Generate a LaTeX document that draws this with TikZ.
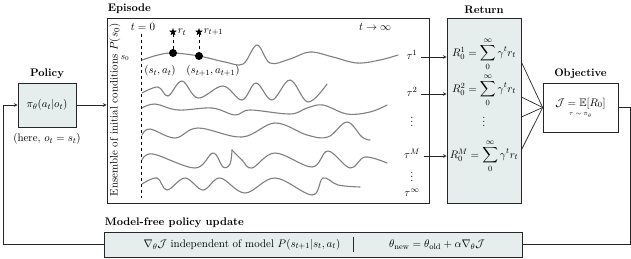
\documentclass[tikz,border=0pt,11pt]{standalone}
\usepackage{amsmath,amssymb}
\usetikzlibrary{shapes.geometric, arrows.meta, positioning, calc}

\definecolor{boxfill}{RGB}{229,237,237}
\definecolor{trajgray}{RGB}{128,128,128}

\begin{document}
\begin{tikzpicture}[
    x=1pt, y=-1pt,
    >=stealth,
    % Grey boxes (policy, return, update)
    box/.style={
        rectangle, draw=black!85, fill=boxfill, line width=0.7pt,
        inner sep=0pt, align=center
    },
    % White frames (episode, objective)
    frame/.style={
        rectangle, draw=black!85, fill=white, line width=0.7pt,
        inner sep=0pt, align=center
    },
    % Bold titles above the boxes
    title/.style={font=\bfseries, inner sep=1pt},
    % Sampled trajectories
    traj/.style={draw=trajgray, line width=1.1pt, line cap=round},
    % Connectors
    link/.style={line width=0.7pt, draw=black!85},
    dot/.style={circle, fill=black, inner sep=0pt, minimum size=8pt},
    reward/.style={star, star points=5, star point ratio=2.4, fill=black,
        inner sep=0pt, minimum size=8pt}
]
    \useasboundingbox (0,0) rectangle (631,258);

    % =========================================================================
    % Main boxes
    % =========================================================================
    \node[box, minimum width=58pt, minimum height=44pt] (pol) at (47,105)
        {$\pi_\theta(a_t|o_t)$};
    \node[frame, minimum width=322pt, minimum height=185pt] (ep) at (268,110.5) {};
    \node[box, minimum width=74pt, minimum height=185pt] (ret) at (484,110.5) {};
    \node[frame, minimum width=75pt, minimum height=49pt] (obj) at (580.5,107.5)
        {$\mathcal{J}=\mathbb{E}[R_0]$\\[-4pt]{\tiny $\tau\sim\pi_\theta$}};
    \node[box, minimum width=418pt, minimum height=25pt] (upd) at (313,244.5) {};

    % Titles
    \node[title, above=3pt of pol] (poltitle) {Policy};
    \node[title, anchor=south west] (eptitle) at ([yshift=3pt]ep.north west) {Episode};
    \node[title, above=3pt of ret] (rettitle) {Return};
    \node[title, above=3pt of obj] (objtitle) {Objective};
    \node[title, anchor=south west] (updtitle) at ([yshift=3pt]upd.north west)
        {Model-free policy update};

    \node[below=2pt of pol] (polnote) {(here, $o_t=s_t$)};

    % =========================================================================
    % Episode contents
    % =========================================================================
    \node[rotate=90] (ens) at (115,110) {Ensemble of initial conditions $P(s_0)$};
    \node (tzero) at (143,27) {$t=0$};
    \node (tinf) at (375,27) {$t\rightarrow\infty$};
    \node (szero) at (125,58) {\footnotesize $s_0$};
    \coordinate (dtop) at (141,34);
    \coordinate (dbot) at (141,198);
    \draw[dashed, line width=0.7pt] (dtop) -- (dbot);

    % trajectories
    \draw[traj] plot[smooth, tension=0.6] coordinates {(142,60) (158,55) (173,53)
        (199,56) (225,62) (243,64) (257,45) (270,63) (290,59) (310,52) (333,57)
        (357,63) (380,60) (398,55)};
    \draw[traj] plot[smooth, tension=0.6] coordinates {(142,93) (158,87) (168,96)
        (182,81) (198,98) (223,86) (242,100) (256,83) (272,100) (290,80) (308,102)
        (327,84)};
    \draw[traj] plot[smooth, tension=0.6] coordinates {(142,108) (155,104) (178,110)
        (212,108) (235,115) (250,110) (290,114) (307,108) (323,105) (347,114)
        (370,112) (387,105)};
    \draw[traj] plot[smooth, tension=0.6] coordinates {(142,135) (150,129) (175,138)
        (198,128) (242,137) (275,123) (307,135) (328,137) (347,122) (362,137)
        (370,140)};
    \draw[traj] plot[smooth, tension=0.6] coordinates {(142,160) (153,154) (195,168)
        (213,153) (223,167) (230,164) (232,150)};
    \draw[traj] plot[smooth, tension=0.6] coordinates {(232,150) (242,160) (252,168)
        (275,153) (312,167) (328,151) (350,168) (365,157) (387,163)};
    \draw[traj] plot[smooth, tension=0.6] coordinates {(142,184) (157,178) (167,190)
        (185,178) (203,190) (220,178) (245,193) (275,178) (312,195) (323,178)
        (338,185) (360,187)};

    % state-action pairs and rewards
    \node[dot] (sa1) at (173,53) {};
    \node[dot] (sa2) at (199,56) {};
    \node[reward, label={[inner sep=2pt]right:$r_t$}] (rw1) at (173,32) {};
    \node[reward, label={[inner sep=2pt]right:$r_{t+1}$}] (rw2) at (199,32) {};
    \draw[dashed, line width=0.7pt] (rw1) -- (sa1);
    \draw[dashed, line width=0.7pt] (rw2) -- (sa2);
    \node (sa1lbl) at (160,71) {$(s_t,a_t)$};
    \node (sa2lbl) at (213,71) {$(s_{t+1},a_{t+1})$};

    % trajectory names
    \node (tau1) at (412,55) {$\tau^1$};
    \node (tau2) at (412,92) {$\tau^2$};
    \node (taudots) at (412,119) {$\vdots$};
    \node (tauM) at (412,154) {$\tau^M$};
    \node (taudotsb) at (412,174) {$\vdots$};
    \node (tauinf) at (412,193) {$\tau^\infty$};

    % =========================================================================
    % Return contents
    % =========================================================================
    \node[inner sep=0pt] (r1) at (484,54) {$R_0^1=\displaystyle\sum_0^\infty\gamma^t r_t$};
    \node[inner sep=0pt] (r2) at (484,90) {$R_0^2=\displaystyle\sum_0^\infty\gamma^t r_t$};
    \node[inner sep=0pt] (rdots) at (484,119) {$\vdots$};
    \node[inner sep=0pt] (rM) at (484,156) {$R_0^M=\displaystyle\sum_0^\infty\gamma^t r_t$};

    % =========================================================================
    % Update contents
    % =========================================================================
    \node (updl) at (242,244.5)
        {$\nabla_\theta\mathcal{J}$ independent of model $P(s_{t+1}|s_t,a_t)$};
    \node (updr) at (437,244.5)
        {$\theta_{\mathrm{new}}=\theta_{\mathrm{old}}+\alpha\nabla_\theta\mathcal{J}$};
    \draw[link] (353,237) -- (353,252);

    % =========================================================================
    % Connectors
    % =========================================================================
    \draw[link, ->] (pol.east) -- (pol.east -| ep.west);

    \draw[link, ->] ([yshift=-2pt]tau1.east) -- ([yshift=-2pt]tau1.east -| ret.west);
    \draw[link, ->] ([yshift=-2pt]tau2.east) -- ([yshift=-2pt]tau2.east -| ret.west);
    \draw[link, ->] ([yshift=-2pt]tauM.east) -- ([yshift=-2pt]tauM.east -| ret.west);

    \draw[link] ([yshift=-8pt]r1.east -| ret.east) -- (obj.west);
    \draw[link] ([yshift=-7pt]r2.east -| ret.east) -- (obj.west);
    \draw[link] ([yshift=2pt]rdots.east -| ret.east) -- (obj.west);
    \draw[link] ([yshift=6pt]rM.east -| ret.east) -- (obj.west);

    % feedback loop
    \coordinate (loopR) at (630,0);
    \coordinate (loopL) at (3,0);
    \draw[link] (obj.east) -| (loopR |- upd.east) -- (upd.east);
    \draw[link, ->] (upd.west) -| (loopL |- pol.west) -- (pol.west);

\end{tikzpicture}
\end{document}
